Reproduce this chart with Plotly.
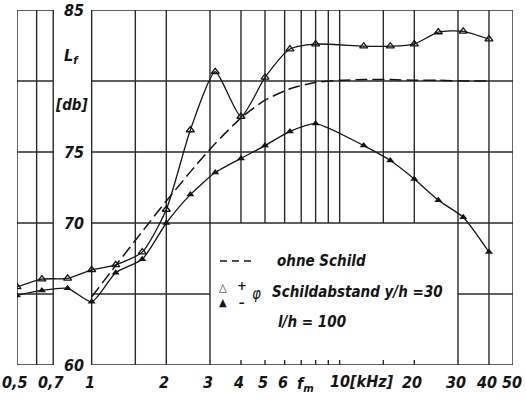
import numpy as np
import plotly.graph_objects as go

# ---- data ----
freq = [0.5, 0.63, 0.8, 1, 1.25, 1.6, 2, 2.5, 3.15, 4, 5, 6.3, 8, 12.5, 16, 20, 25, 31.5, 40]
L_plus = [65.5, 66.05, 66.1, 66.7, 67.05, 67.95, 70.95, 76.55, 80.65, 77.5, 80.25, 82.25, 82.6,
          82.45, 82.45, 82.6, 83.45, 83.5, 82.95]
L_minus = [64.9, 65.25, 65.4, 64.45, 66.5, 67.45, 70.0, 72.0, 73.55, 74.55, 75.45, 76.45, 77.0,
           75.45, 74.4, 73.1, 71.6, 70.4, 67.95]
freq_ohne = [1, 1.25, 1.6, 2, 2.5, 3.15, 4, 5, 6.3, 8, 10, 12.5, 16, 20, 25, 31.5, 40]
L_ohne = [64.8, 67.0, 69.4, 71.55, 73.6, 75.6, 77.4, 78.65, 79.45, 79.9, 80.05, 80.1, 80.1,
          80.05, 80.05, 80.0, 80.0]

x_tick_vals = [0.5, 0.7, 1, 2, 3, 4, 5, 6, 10, 20, 30, 40, 50]
x_tick_text = ['0,5', '0,7', '1', '2', '3', '4', '5', '6', '10[kHz]', '20', '30', '40', '50']
y_tick_vals = [85, 75, 70, 60]
y_tick_text = ['85', '75', '70', '60']

grid_full_x = [0.5, 0.6, 0.7, 1, 1.5, 2, 3, 30, 40, 50]
grid_upper_x = [4, 5, 6, 7, 8, 9, 10, 15, 20]
grid_y_left = [85, 80, 75, 70, 65, 60]
grid_y_main = [85, 80, 75, 70, 60]
grid_65_segments = [(1, 3), (30, 50)]

W, H = 526, 405
ML, MR, MT, MB = 17, 13, 10, 40
PW, PH = W - ML - MR, H - MT - MB

def px(xp):
    return (xp - ML) / PW

def py(yp):
    return (H - MB - yp) / PH

FONT = "DejaVu Sans Condensed, Liberation Sans Narrow, Roboto, sans-serif"
INK = "#151515"
GRID = "#2a2a2a"

fig = go.Figure()

# ---- grid as line traces ----
gx, gy = [], []
for v in grid_full_x:
    gx += [v, v, None]; gy += [60, 85, None]
for v in grid_upper_x:
    gx += [v, v, None]; gy += [70, 85, None]
    gx += [v, v, None]; gy += [60, 60.35, None]
for v in grid_y_left:
    gx += [0.5, 0.7, None]; gy += [v, v, None]
for v in grid_y_main:
    gx += [1, 50, None]; gy += [v, v, None]
for a, b in grid_65_segments:
    gx += [a, b, None]; gy += [65, 65, None]
fig.add_trace(go.Scatter(x=gx, y=gy, mode='lines', line=dict(color=GRID, width=1.4),
                         hoverinfo='skip', showlegend=False))

# ---- data series ----
fig.add_trace(go.Scatter(x=freq_ohne, y=L_ohne, mode='lines',
                         line=dict(color=INK, width=1.5, dash='12px,5px', shape='spline', smoothing=0.6),
                         name='ohne Schild', showlegend=False))
fig.add_trace(go.Scatter(x=freq, y=L_plus, mode='lines+markers',
                         line=dict(color=INK, width=1.3, shape='spline', smoothing=0.6),
                         marker=dict(symbol='triangle-up-open', size=7, color=INK, line=dict(width=1.3, color=INK)),
                         name='+φ', showlegend=False))
fig.add_trace(go.Scatter(x=freq, y=L_minus, mode='lines+markers',
                         line=dict(color=INK, width=1.3, shape='spline', smoothing=0.6),
                         marker=dict(symbol='triangle-up', size=7, color=INK),
                         name='−φ', showlegend=False))

ann = []
def text(t, x, y, size=16, xanchor='center', xref='paper', yref='paper', xshift=0, weight='bold'):
    ann.append(dict(text=t, x=x, y=y, xref=xref, yref=yref, showarrow=False,
                    xanchor=xanchor, yanchor='middle', xshift=xshift,
                    font=dict(family=FONT, size=size, color=INK, style='italic', weight=weight)))

# x tick labels
for v, t in zip(x_tick_vals, x_tick_text):
    if t.startswith('10'):
        text(t, np.log10(v), py(381), xanchor='left', xref='x', xshift=-12)
    elif t == '50':
        text(t, np.log10(v), py(382), xref='x', xshift=-1)
    else:
        text(t, np.log10(v), py(382), xref='x', xshift=-2)
# y tick labels
for v, t in zip(y_tick_vals, y_tick_text):
    text(t, px(74), v, yref='y')
text('L<sub>f</sub>', px(71), py(56))
text('[db]', px(71), py(105), size=15)
text('f<sub>m</sub>', px(305), py(384))

# legend
fig.add_shape(type='line', xref='paper', yref='paper', x0=px(220), x1=px(254), y0=py(261), y1=py(261),
              line=dict(color=INK, width=1.6, dash='7px,5px'))
text('ohne Schild', px(275), py(261), size=15, xanchor='left')
text('△', px(223), py(287), size=11, weight='normal')
text('▲', px(223), py(302), size=11, weight='normal')
text('+', px(242), py(285), size=13)
text('–', px(242), py(302), size=13)
text('φ', px(256), py(294), size=15, weight='normal')
text('Schildabstand y/h =30', px(270), py(292), size=15, xanchor='left')
text('l/h = 100', px(276), py(322), size=15, xanchor='left')

fig.update_layout(
    width=W, height=H,
    margin=dict(l=ML, r=MR, t=MT, b=MB, autoexpand=False),
    paper_bgcolor='white', plot_bgcolor='white',
    annotations=ann,
    xaxis=dict(type='log', range=[np.log10(0.5), np.log10(50)], showgrid=False, zeroline=False,
               showline=False, showticklabels=False, ticks=''),
    yaxis=dict(range=[60, 85], showgrid=False, zeroline=False, showline=False,
               showticklabels=False, ticks=''),
)

fig.write_html("out.html", config={'displayModeBar': False},
               post_script="document.body.style.margin='0';document.body.style.overflow='hidden';")
